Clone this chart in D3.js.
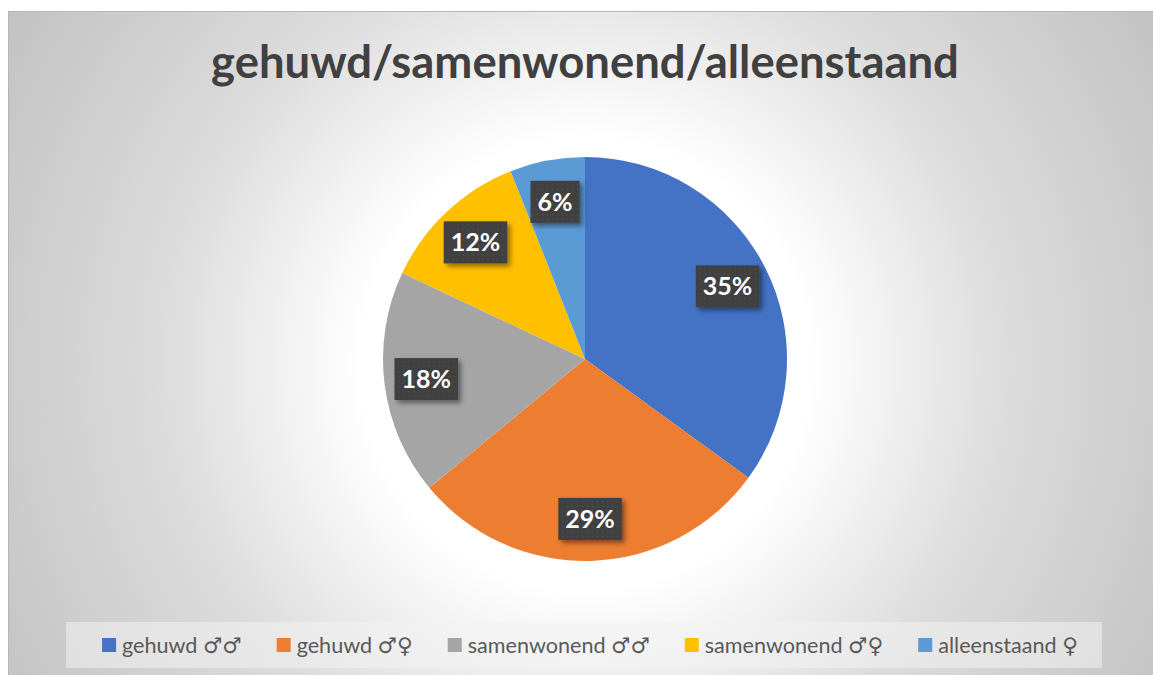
<!DOCTYPE html>
<html>
<head>
<meta charset="utf-8">
<script src="https://cdn.jsdelivr.net/npm/d3@7"></script>
<style>
  body { margin: 0; background: #fff; }
  svg { display: block; }
</style>
</head>
<body>
<script>
// chart data
const categories = ["gehuwd ♂♂", "gehuwd ♂♀", "samenwonend ♂♂", "samenwonend ♂♀", "alleenstaand ♀"];
const values = [35, 29, 18, 12, 6];
const colors = ["#4472c4", "#ed7d31", "#a5a5a5", "#ffc000", "#5b9bd5"];
const title = "gehuwd/samenwonend/alleenstaand";

const W = 1153, H = 675;
const cx = 585, cy = 359, R = 202;

const svg = d3.select("body").append("svg")
    .attr("width", W)
    .attr("height", H);

const defs = svg.append("defs");

// background gradient, white around the pie fading to grey
const bg = defs.append("radialGradient")
    .attr("id", "bg")
    .attr("gradientUnits", "userSpaceOnUse")
    .attr("cx", cx).attr("cy", cy + 5).attr("r", 680);
bg.append("stop").attr("offset", 0).attr("stop-color", "#ffffff");
bg.append("stop").attr("offset", 0.33).attr("stop-color", "#ffffff");
bg.append("stop").attr("offset", 0.62).attr("stop-color", "#dcdcdc");
bg.append("stop").attr("offset", 1).attr("stop-color", "#c2c2c2");

// dotted fill for the data labels
const pat = defs.append("pattern")
    .attr("id", "dots")
    .attr("patternUnits", "userSpaceOnUse")
    .attr("width", 5).attr("height", 5);
pat.append("rect").attr("width", 5).attr("height", 5).attr("fill", "#3f3f3f");
pat.append("circle").attr("cx", 2.5).attr("cy", 2.5).attr("r", 0.9).attr("fill", "#4d4d4d");

const shadow = defs.append("filter")
    .attr("id", "shadow")
    .attr("x", "-30%").attr("y", "-30%")
    .attr("width", "160%").attr("height", "160%");
shadow.append("feDropShadow")
    .attr("dx", 3).attr("dy", 3)
    .attr("stdDeviation", 2.5)
    .attr("flood-color", "#000")
    .attr("flood-opacity", 0.45);

svg.append("rect")
    .attr("x", 8).attr("y", 11)
    .attr("width", W - 8).attr("height", H - 11)
    .attr("fill", "url(#bg)");

svg.append("line")
    .attr("x1", 8).attr("x2", W).attr("y1", 11.5).attr("y2", 11.5)
    .attr("stroke", "#b5b5b5");
svg.append("line")
    .attr("x1", 8.5).attr("x2", 8.5).attr("y1", 11).attr("y2", H)
    .attr("stroke", "#b5b5b5");

// title
const titleText = svg.append("text")
    .attr("x", cx).attr("y", 78)
    .attr("text-anchor", "middle")
    .attr("font-family", "Lato, 'Open Sans', sans-serif")
    .attr("font-weight", "bold")
    .attr("font-size", 44)
    .attr("fill", "#404040")
    .text(title);
const tw = titleText.node().getComputedTextLength();
titleText.attr("font-size", 44 * 748 / tw);

// pie
const pie = d3.pie().sort(null).value(d => d);
const arcs = pie(values);
const arc = d3.arc().innerRadius(0).outerRadius(R);
const labelArc = d3.arc().innerRadius(160).outerRadius(160);

const g = svg.append("g").attr("transform", `translate(${cx},${cy})`);

g.selectAll("path.slice")
    .data(arcs)
    .enter().append("path")
    .attr("class", "slice")
    .attr("d", arc)
    .attr("fill", (d, i) => colors[i]);

const labels = g.selectAll("g.lbl")
    .data(arcs)
    .enter().append("g")
    .attr("class", "lbl")
    .attr("transform", d => `translate(${labelArc.centroid(d)})`);

labels.append("rect")
    .attr("filter", "url(#shadow)")
    .attr("fill", "url(#dots)");

labels.append("text")
    .attr("text-anchor", "middle")
    .attr("dy", "0.36em")
    .attr("font-family", "Lato, 'Open Sans', sans-serif")
    .attr("font-weight", "bold")
    .attr("font-size", 25)
    .attr("fill", "#ffffff")
    .text(d => d.data + "%");

labels.each(function() {
    const t = d3.select(this).select("text").node();
    const w = t.getComputedTextLength() + 14;
    d3.select(this).select("rect")
        .attr("x", -w / 2).attr("y", -21)
        .attr("width", w).attr("height", 42);
});

// legend
const legY = 622, legH = 46;
svg.append("rect")
    .attr("x", 66).attr("y", legY)
    .attr("width", 1102 - 66).attr("height", legH)
    .attr("fill", "#f2f2f2")
    .attr("fill-opacity", 0.55);

const leg = svg.append("g");
const items = leg.selectAll("g")
    .data(categories)
    .enter().append("g");

items.append("rect")
    .attr("width", 14).attr("height", 14)
    .attr("y", legY + 16)
    .attr("fill", (d, i) => colors[i]);

const legText = items.append("text")
    .attr("x", 20)
    .attr("y", legY + 31)
    .attr("font-family", "Lato, 'DejaVu Sans', sans-serif")
    .attr("font-size", 19)
    .attr("fill", "#595959")
    .text(d => d);

// size the legend text so the row spans the same width as the original
const gap = 35;
const measure = () => {
    const ws = [];
    items.each(function() {
        ws.push(20 + d3.select(this).select("text").node().getComputedTextLength());
    });
    return ws;
};
let widths = measure();
const textSum = d3.sum(widths) - 20 * widths.length;
const wanted = 976 - gap * (widths.length - 1) - 20 * widths.length;
legText.attr("font-size", 19 * wanted / textSum);
widths = measure();

const total = d3.sum(widths) + gap * (widths.length - 1);
let x0 = (66 + 1102) / 2 - total / 2 + 6;
items.attr("transform", (d, i) => {
    const x = x0;
    x0 += widths[i] + gap;
    return `translate(${x},0)`;
});
</script>
</body>
</html>
